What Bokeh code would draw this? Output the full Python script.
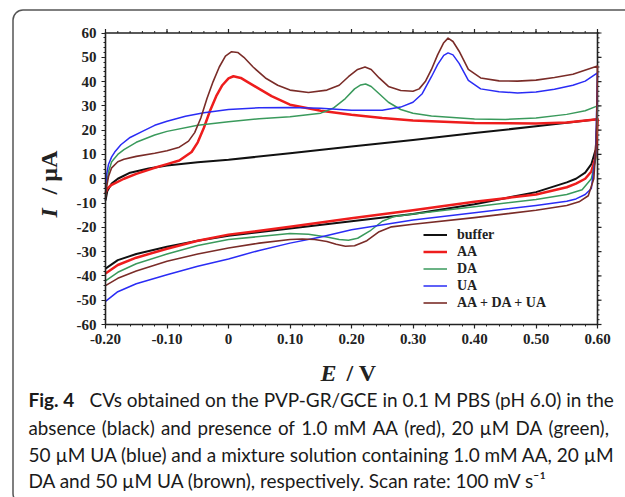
import numpy as np
from bokeh.plotting import figure
from bokeh.models import (Range1d, LinearAxis, FixedTicker,
                          Legend, LegendItem, Label, BoxAnnotation)
from bokeh.embed import file_html
from bokeh.resources import INLINE

# ---------------- data ----------------
buffer_E = [-0.2, -0.197, -0.19, -0.18, -0.16, -0.13, -0.1, -0.05, 0, 0.1, 0.2, 0.3, 0.4, 0.5, 0.6,
            0.597, 0.59, 0.58, 0.565, 0.55, 0.5, 0.45, 0.4, 0.3, 0.2, 0.1, 0, -0.05, -0.1, -0.15, -0.18, -0.2]
buffer_I = [-9, -5, -2, 0, 2.5, 4.2, 5.5, 6.8, 7.8, 10.5, 13.3, 16, 18.8, 21.6, 24.5,
            12, 6, 2.5, 0, -1.5, -5.5, -8, -10.5, -14.5, -17.5, -20.5, -23.5, -25.5, -28, -31, -33.5, -37]

aa_E = [-0.2, -0.197, -0.19, -0.17, -0.15, -0.12, -0.1, -0.08, -0.06, -0.05, -0.04, -0.03, -0.02, -0.01, 0,
        0.008, 0.02, 0.03, 0.05, 0.07, 0.1, 0.15, 0.2, 0.25, 0.3, 0.4, 0.5, 0.55, 0.6,
        0.597, 0.59, 0.58, 0.565, 0.55, 0.5, 0.45, 0.4, 0.3, 0.2, 0.1, 0, -0.05, -0.1, -0.15, -0.18, -0.2]
aa_I = [-6, -4, -2.5, 0, 2, 4.5, 6, 7.5, 11, 15, 21, 28, 34, 38.5, 41.3,
        42.2, 41.5, 40, 37, 34, 30.5, 28, 26.3, 25, 24, 23, 22.7, 23.2, 24.5,
        9, 3, 0, -2, -3.5, -6.5, -8, -9.5, -13, -16.3, -19.8, -23, -25.5, -28.8, -32.5, -35.5, -39]

da_E = [-0.2, -0.198, -0.195, -0.19, -0.18, -0.17, -0.15, -0.12, -0.1, -0.05, 0, 0.05, 0.1, 0.15, 0.17,
        0.19, 0.205, 0.215, 0.223, 0.232, 0.245, 0.26, 0.28, 0.3, 0.33, 0.4, 0.45, 0.5, 0.55, 0.58, 0.6,
        0.597, 0.59, 0.575, 0.55, 0.5, 0.4, 0.3, 0.27, 0.25, 0.23, 0.21, 0.195, 0.18, 0.16, 0.13, 0.1,
        0.05, 0, -0.05, -0.1, -0.15, -0.18, -0.2]
da_I = [-7, -2, 3, 7, 10, 12, 15, 18, 19.5, 22, 23.5, 24.7, 25.5, 27, 29,
        33, 37, 38.6, 39, 38, 35, 31.5, 28.5, 27, 25.8, 24.6, 24.4, 25, 26.5, 28, 30,
        8, 0, -4.5, -6.5, -8.5, -11.5, -14.5, -15.5, -17.5, -21.5, -24.5, -25.3, -25, -24, -22.8, -22.5,
        -23.8, -25, -27.5, -31, -35, -38.5, -42]

ua_E = [-0.2, -0.198, -0.195, -0.19, -0.185, -0.175, -0.16, -0.14, -0.12, -0.1, -0.07, -0.04, 0, 0.05,
        0.1, 0.15, 0.2, 0.25, 0.28, 0.3, 0.315, 0.33, 0.34, 0.35, 0.357, 0.365, 0.375, 0.39, 0.41, 0.44,
        0.47, 0.5, 0.53, 0.56, 0.58, 0.6,
        0.597, 0.59, 0.58, 0.565, 0.55, 0.5, 0.4, 0.3, 0.2, 0.15, 0.1, 0.05, 0, -0.05, -0.1, -0.15, -0.18, -0.2]
ua_I = [-4, 2, 6, 9, 11, 14, 17, 19.5, 22, 23.7, 25.7, 27.2, 28.5, 29.2,
        29.3, 29, 28.2, 28.2, 29.5, 31.5, 35, 42, 47, 50.8, 51.8, 51, 47.5, 40.5, 37, 35.8,
        35.3, 35.7, 36.8, 38.5, 40.2, 43.6,
        10, -4, -6.5, -8.3, -9.3, -11, -14, -17, -21, -24, -26.5, -29.5, -33, -36, -39.5, -43.2, -46.5, -50.5]

mix_E = [-0.2, -0.198, -0.195, -0.19, -0.18, -0.17, -0.15, -0.12, -0.1, -0.08, -0.065, -0.055, -0.045,
         -0.035, -0.025, -0.015, -0.005, 0.005, 0.015, 0.025, 0.04, 0.06, 0.08, 0.1, 0.13, 0.16, 0.18,
         0.195, 0.21, 0.222, 0.232, 0.245, 0.26, 0.28, 0.3, 0.31, 0.32, 0.33, 0.34, 0.35, 0.357, 0.365,
         0.375, 0.39, 0.41, 0.44, 0.47, 0.5, 0.53, 0.56, 0.6,
         0.598, 0.594, 0.585, 0.57, 0.55, 0.5, 0.4, 0.3, 0.265, 0.245, 0.225, 0.205, 0.19, 0.175, 0.16,
         0.14, 0.12, 0.1, 0.05, 0, -0.05, -0.1, -0.15, -0.18, -0.2]
mix_I = [-8, -3, 1, 4.5, 7, 8, 9.2, 10.5, 11.5, 13, 15.5, 19, 25,
         33, 40, 46, 50.5, 52.3, 52, 50, 46, 41.5, 38.5, 36.5, 35.5, 36.5, 38.5,
         42, 45, 46, 45, 41.5, 38, 36.3, 36, 37, 40, 45, 51, 56, 57.9, 56.5,
         52.5, 45, 41.5, 40.3, 40.2, 40.6, 41.7, 43, 46.4,
         15, 0, -7, -9.5, -11, -13, -16, -18.7, -19.8, -21.8, -25.5, -27.6, -27.8, -27, -25.8,
         -25, -24.8, -25, -26.5, -28.5, -31, -34, -38, -41, -44]

series_names = ["buffer", "AA", "DA", "UA", "AA + DA + UA"]
series_colors = ["#111111", "#ee1d1d", "#3a9a5c", "#2a2cf5", "#7a2c28"]

x_ticks = [-0.2, -0.1, 0.0, 0.1, 0.2, 0.3, 0.4, 0.5, 0.6]
x_tick_labels = ["-0.20", "-0.10", "0", "0.10", "0.20", "0.30", "0.40", "0.50", "0.60"]
y_ticks = [-60, -50, -40, -30, -20, -10, 0, 10, 20, 30, 40, 50, 60]
y_tick_labels = ["-60", "-50", "-40", "-30", "-20", "-10", "0", "10", "20", "30", "40", "50", "60"]

caption_bold = "Fig. 4"
caption_line1 = "CVs obtained on the PVP-GR/GCE in 0.1 M PBS (pH 6.0) in the"
caption_line2 = "absence (black) and presence of 1.0 mM AA (red), 20 \u00b5M DA (green),"
caption_line3 = "50 \u00b5M UA (blue) and a mixture solution containing 1.0 mM AA, 20 \u00b5M"
caption_line4 = "DA and 50 \u00b5M UA (brown), respectively. Scan rate: 100 mV s\u207b\u00b9"

# ---------------- layout (pixels) ----------------
W, H = 625, 497
PX_L, PX_R, PX_T, PX_B = 105, 597, 32.5, 324   # plot box on the page
E_MIN, E_MAX, I_MIN, I_MAX = -0.2, 0.6, -60, 60
ex = (E_MAX - E_MIN) / (PX_R - PX_L)            # V per pixel
iy = (I_MAX - I_MIN) / (PX_B - PX_T)            # uA per pixel

# frame = full page; default ranges are page pixels (y downwards)
p = figure(width=W, height=H, x_range=Range1d(0, W), y_range=Range1d(H, 0),
           x_axis_type=None, y_axis_type=None, output_backend="svg", toolbar_location=None,
           min_border=0, min_border_left=0, min_border_right=0, min_border_top=0, min_border_bottom=0)
p.outline_line_color = None
p.background_fill_color = "white"
p.border_fill_color = "white"
p.extra_x_ranges = {"E": Range1d(E_MIN - PX_L * ex, E_MAX + (W - PX_R) * ex)}
p.extra_y_ranges = {"I": Range1d(I_MIN - (H - PX_B) * iy, I_MAX + PX_T * iy)}

serif = "Liberation Serif"
x_minor = [float(v) for v in np.round(np.arange(-0.2, 0.6001, 0.02), 4)]
y_minor = [float(v) for v in np.arange(-60, 61, 2)]
AX_COL = "#222222"
MAJ, MIN_ = 4, 2


def make_axis(loc, ticks, minor, labels, fixed, bounds):
    ax = LinearAxis(x_range_name="E", y_range_name="I", fixed_location=fixed, bounds=bounds,
                    ticker=FixedTicker(ticks=ticks, minor_ticks=minor))
    ax.axis_line_width = 1.6
    ax.axis_line_color = AX_COL
    ax.major_tick_out = MAJ
    ax.major_tick_in = 0
    ax.minor_tick_out = MIN_
    ax.minor_tick_in = 0
    ax.major_tick_line_color = AX_COL
    ax.minor_tick_line_color = AX_COL
    ax.major_tick_line_width = 1.2
    ax.minor_tick_line_width = 1
    ax.major_label_text_font = serif
    ax.major_label_text_font_style = "bold"
    ax.major_label_text_font_size = "15px"
    ax.major_label_text_color = AX_COL
    ax.major_label_standoff = 5
    ax.major_label_overrides = {t: s for t, s in zip(ticks, labels)}
    p.add_layout(ax, loc)


make_axis("below", x_ticks, x_minor, x_tick_labels, I_MIN, (E_MIN, E_MAX))
make_axis("left", y_ticks, y_minor, y_tick_labels, E_MIN, (I_MIN, I_MAX))

# top and right frame edges with outward ticks (no labels)
seg = dict(x_range_name="E", y_range_name="I", line_color=AX_COL)
p.segment(x0=[E_MIN, E_MAX], y0=[I_MAX, I_MIN], x1=[E_MAX, E_MAX], y1=[I_MAX, I_MAX],
          line_width=1.6, line_cap="square", **seg)
p.segment(x0=x_ticks, y0=[I_MAX] * len(x_ticks), x1=x_ticks, y1=[I_MAX + MAJ * iy] * len(x_ticks),
          line_width=1.2, **seg)
p.segment(x0=x_minor, y0=[I_MAX] * len(x_minor), x1=x_minor, y1=[I_MAX + MIN_ * iy] * len(x_minor),
          line_width=1, **seg)
p.segment(x0=[E_MAX] * len(y_ticks), y0=y_ticks, x1=[E_MAX + MAJ * ex] * len(y_ticks), y1=y_ticks,
          line_width=1.2, **seg)
p.segment(x0=[E_MAX] * len(y_minor), y0=y_minor, x1=[E_MAX + MIN_ * ex] * len(y_minor), y1=y_minor,
          line_width=1, **seg)

all_E = [buffer_E, aa_E, da_E, ua_E, mix_E]
all_I = [buffer_I, aa_I, da_I, ua_I, mix_I]
widths = [2.0, 2.5, 1.5, 1.5, 1.6]
renderers = []
for E, I, c, w in zip(all_E, all_I, series_colors, widths):
    renderers.append(p.line(E, I, line_color=c, line_width=w, line_join="round",
                            x_range_name="E", y_range_name="I"))

legend = Legend(items=[LegendItem(label=n, renderers=[r]) for n, r in zip(series_names, renderers)],
                location=(423, H - 311))
legend.border_line_color = None
legend.background_fill_alpha = 0
legend.label_text_font = serif
legend.label_text_font_style = "bold"
legend.label_text_font_size = "14px"
legend.label_text_color = AX_COL
legend.glyph_width = 24
legend.glyph_height = 17
legend.label_height = 17
legend.label_standoff = 10
legend.spacing = 0
legend.padding = 0
legend.margin = 0
p.add_layout(legend, "center")


def lab(x, y, text, size, font, style="normal", angle=0.0, color=AX_COL, align="left"):
    p.add_layout(Label(x=x, y=y, text=text, angle=angle, text_font=font, text_font_style=style,
                       text_font_size=size, text_align=align, text_baseline="middle",
                       text_color=color))


# axis titles
lab(48, 217, "I", "24px", serif, "bold italic", np.pi / 2)
lab(48, 194, "/ \u00b5A", "24px", serif, "bold", np.pi / 2)
lab(320, 372, "E", "24px", serif, "bold italic")
lab(346, 372, "/ V", "24px", serif, "bold")

# caption (line 2 is justified in the source: slightly wider word gaps)
cap_font = "Lato"
cap_size = "19px"
cc = "#1a1a1a"
line_y = [399, 426.5, 453.5, 480]
lab(28, line_y[0], caption_bold, cap_size, cap_font, "bold", color=cc)
lab(89, line_y[0], caption_line1, cap_size, cap_font, color=cc)
lab(28, line_y[1], caption_line2.replace(" ", "\u2004"), "18.8px", cap_font, color=cc)
lab(28, line_y[2], caption_line3, cap_size, cap_font, color=cc)
lab(28, line_y[3], caption_line4, cap_size, cap_font, color=cc)

# outer rounded frame
p.add_layout(BoxAnnotation(left=12.5, right=700, top=9.5, bottom=503,
                           fill_alpha=0, line_color="#555555", line_alpha=1.0, line_width=1.5,
                           border_radius=10, level="overlay"))

open("out.html", "w").write(file_html(p, INLINE))
